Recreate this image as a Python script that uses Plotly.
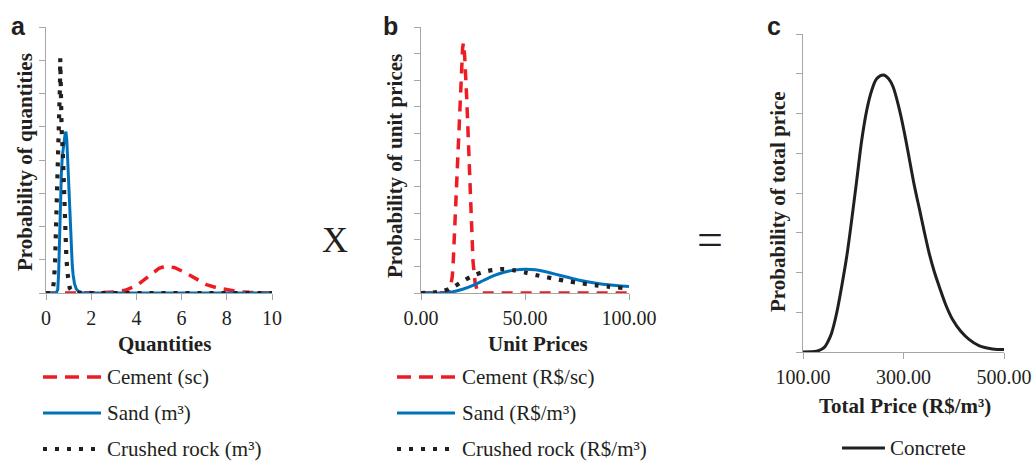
import plotly.graph_objects as go

W, H = 1036, 462

# ---------------- data ----------------
# Panel a: probability of quantities
cement_q_x = [0, 1, 2, 3, 3.5, 4, 4.5, 5, 5.3, 5.7, 6.2, 6.7, 7.1, 7.6, 8, 8.5, 9, 10]
cement_q_y = [0, 0, 0.005, 0.03, 0.08, 0.22, 0.48, 0.74, 0.81, 0.76, 0.6, 0.4, 0.25, 0.15, 0.09, 0.04, 0.02, 0.0]

sand_q_x = [0, 0.45, 0.52, 0.56, 0.60, 0.64, 0.68, 0.72, 0.78, 0.84, 0.88, 0.92, 0.96, 1.00, 1.04,
            1.08, 1.12, 1.16, 1.20, 1.26, 1.34, 1.45, 1.6, 1.8, 4, 6, 8, 10]
sand_q_y = [0, 0, 0.1, 0.6, 1.6, 2.8, 3.6, 4.1, 4.5, 4.75, 4.85, 4.6, 4.0, 3.3, 2.5,
            1.8, 1.25, 0.85, 0.55, 0.28, 0.12, 0.04, 0.01, 0, 0, 0, 0, 0]

rock_q_x = [0, 0.2, 0.3, 0.35, 0.4, 0.45, 0.5, 0.55, 0.6, 0.62, 0.63, 0.65, 0.69, 0.74, 0.78,
            0.82, 0.86, 0.9, 0.95, 1.0, 1.05, 1.15, 1.3, 2, 4, 6, 8, 10]
rock_q_y = [0, 0, 0.1, 0.35, 0.9, 2.0, 3.3, 4.3, 5.2, 6.3, 7.06, 6.0, 4.95, 4.3, 3.3,
            2.4, 1.7, 1.1, 0.6, 0.3, 0.15, 0.05, 0.01, 0, 0, 0, 0, 0]

# Panel b: probability of unit prices
cement_p_x = [0, 10, 13, 14, 15, 15.4, 16, 17, 18, 19, 20, 20.4, 21, 22, 23, 24, 25, 26, 27, 28, 30, 100]
cement_p_y = [0, 0, 0.02, 0.15, 0.6, 1.0, 2.1, 4.0, 5.9, 7.7, 9.2, 9.4, 8.9, 7.3, 5.3, 3.0, 1.2, 0.4, 0.1, 0.02, 0, 0]

sand_p_x = [0, 5, 10, 15, 20, 25, 30, 35, 40, 45, 50, 55, 60, 65, 70, 75, 80, 85, 90, 95, 100]
sand_p_y = [0, 0, 0.0, 0.04, 0.14, 0.29, 0.47, 0.65, 0.78, 0.86, 0.89, 0.87, 0.80, 0.70, 0.60,
            0.50, 0.42, 0.36, 0.31, 0.27, 0.24]

rock_p_x = [0, 5, 10, 15, 20, 25, 30, 35, 40, 45, 50, 55, 60, 65, 70, 75, 80, 85, 90, 97]
rock_p_y = [0, 0.01, 0.06, 0.2, 0.44, 0.65, 0.79, 0.87, 0.9, 0.85, 0.77, 0.68, 0.6, 0.52,
            0.45, 0.39, 0.33, 0.28, 0.24, 0.19]

# Panel c: probability of total price
total_x = [100, 115, 127, 137, 144, 150, 157, 167, 177, 187, 197, 207, 217, 227, 237, 247, 260,
           270, 279, 292, 302, 312, 322, 332, 342, 351, 361, 371, 384, 398, 414, 431, 450, 477, 500]
total_y = [0, 0.005, 0.02, 0.07, 0.14, 0.27, 0.48, 0.98, 1.65, 2.40, 3.33, 4.33, 5.34, 6.09, 6.59,
           6.88, 6.97, 6.88, 6.68, 6.09, 5.50, 4.83, 4.16, 3.58, 2.99, 2.49, 2.03, 1.65, 1.19,
           0.81, 0.52, 0.31, 0.16, 0.075, 0.06]

qty_ticks = [0, 2, 4, 6, 8, 10]
unit_ticks = [0, 50, 100]
unit_tick_text = ["0.00", "50.00", "100.00"]
total_ticks = [100, 300, 500]
total_tick_text = ["100.00", "300.00", "500.00"]

legend_a = ["Cement (sc)", "Sand (m³)", "Crushed rock (m³)"]
legend_b = ["Cement (R$/sc)", "Sand (R$/m³)", "Crushed rock (R$/m³)"]
legend_c = ["Concrete"]

# ---------------- styling ----------------
RED = "#ed1c24"
BLUE = "#0072bc"
BLACK = "#231f20"
GREY = "#a6a6a6"
SERIF = "Liberation Serif"
SANS = "Liberation Sans"

RED_DASH = "11px,8px"
DOTS = "4px,8px"


def fx(p):
    return p / W


def fy(p):
    return 1 - p / H


fig = go.Figure()


def add(x, y, xa, ya, color, width, dash, shape="linear", smoothing=1.0):
    fig.add_trace(go.Scatter(
        x=x, y=y, xaxis=xa, yaxis=ya, mode="lines",
        line=dict(color=color, width=width, dash=dash, shape=shape, smoothing=smoothing),
        cliponaxis=False, showlegend=False, hoverinfo="skip"))


add(cement_q_x, cement_q_y, "x", "y", RED, 3.5, RED_DASH)
add(sand_q_x, sand_q_y, "x", "y", BLUE, 3, "solid")
add(rock_q_x, rock_q_y, "x", "y", BLACK, 4.2, DOTS)

add(cement_p_x, cement_p_y, "x2", "y2", RED, 3.5, RED_DASH)
add(sand_p_x, sand_p_y, "x2", "y2", BLUE, 3, "solid", "spline", 0.8)
add(rock_p_x, rock_p_y, "x2", "y2", BLACK, 4.2, DOTS, "spline", 0.8)

add(total_x, total_y, "x3", "y3", BLACK, 3, "solid", "spline", 1.0)

common = dict(showline=True, linecolor=GREY, linewidth=1, ticks="outside", tickcolor=GREY,
              ticklen=6, tickwidth=1, showgrid=False, zeroline=False, layer="below traces",
              fixedrange=True, automargin=False)
tickfont = dict(family=SERIF, size=20, color=BLACK)

fig.update_layout(
    template="none",
    width=W, height=H,
    margin=dict(l=0, r=0, t=0, b=0, pad=0, autoexpand=False),
    paper_bgcolor="white", plot_bgcolor="white",
    showlegend=False,
    xaxis=dict(domain=[fx(46), fx(272)], range=[0, 10], tickvals=qty_ticks, anchor="y",
               tickfont=tickfont, ticklabelstandoff=1, **common),
    yaxis=dict(domain=[fy(293), fy(27)], range=[0, 8], tick0=0, dtick=1, anchor="x",
               showticklabels=False, **common),
    xaxis2=dict(domain=[fx(421), fx(629)], range=[0, 100], tickvals=unit_ticks,
                ticktext=unit_tick_text, anchor="y2", tickfont=tickfont, ticklabelstandoff=1, **common),
    yaxis2=dict(domain=[fy(293), fy(27)], range=[0, 10], tick0=0, dtick=1, anchor="x2",
                showticklabels=False, **common),
    xaxis3=dict(domain=[fx(803), fx(1004)], range=[100, 500], tickvals=total_ticks,
                ticktext=total_tick_text, anchor="y3", tickfont=tickfont, ticklabelstandoff=1, **common),
    yaxis3=dict(domain=[fy(352), fy(34)], range=[0, 8], tick0=0, dtick=1, anchor="x3",
                showticklabels=False, **common),
)

ann = []


def text(x, y, s, size=21, bold=False, family=SERIF, angle=0, xanchor="center"):
    ann.append(dict(x=fx(x), y=fy(y), xref="paper", yref="paper", text=("<b>%s</b>" % s) if bold else s,
                    showarrow=False, textangle=angle, xanchor=xanchor, yanchor="middle",
                    font=dict(family=family, size=size, color=BLACK)))


# panel letters
text(18, 26, "a", size=25, bold=True, family=SANS)
text(390, 26, "b", size=25, bold=True, family=SANS)
text(774, 26, "c", size=25, bold=True, family=SANS)

# axis titles
text(164, 344, "Quantities", bold=True)
text(538, 344, "Unit Prices", bold=True)
text(905, 406, "Total Price (R$/m³)", bold=True)
text(25, 162, "Probability of quantities", bold=True, angle=-90)
text(395, 166, "Probability of unit prices", bold=True, angle=-90)
text(778, 202, "Probability of total price", bold=True, angle=-90)

# operators
text(335, 240, "X", size=36)
text(710, 240, "=", size=46)

shapes = []


def sample(x0, x1, y, color, width, dash):
    shapes.append(dict(type="line", xref="paper", yref="paper", x0=fx(x0), x1=fx(x1), y0=fy(y), y1=fy(y),
                       line=dict(color=color, width=width, dash=dash)))


leg_y = [377, 413, 449]
styles = [(RED, 3.5, "14px,8px"), (BLUE, 3, "solid"), (BLACK, 4.2, DOTS)]
for i, (lab_a, lab_b) in enumerate(zip(legend_a, legend_b)):
    c, w, d = styles[i]
    sample(43, 101, leg_y[i], c, w, d)
    text(105, leg_y[i], lab_a, xanchor="left")
    sample(397, 455, leg_y[i], c, w, d)
    text(460, leg_y[i], lab_b, xanchor="left")

sample(842, 885, 448, BLACK, 3, "solid")
text(888, 448, legend_c[0], xanchor="left")

fig.update_layout(annotations=ann, shapes=shapes)

fig.write_html("out.html")
